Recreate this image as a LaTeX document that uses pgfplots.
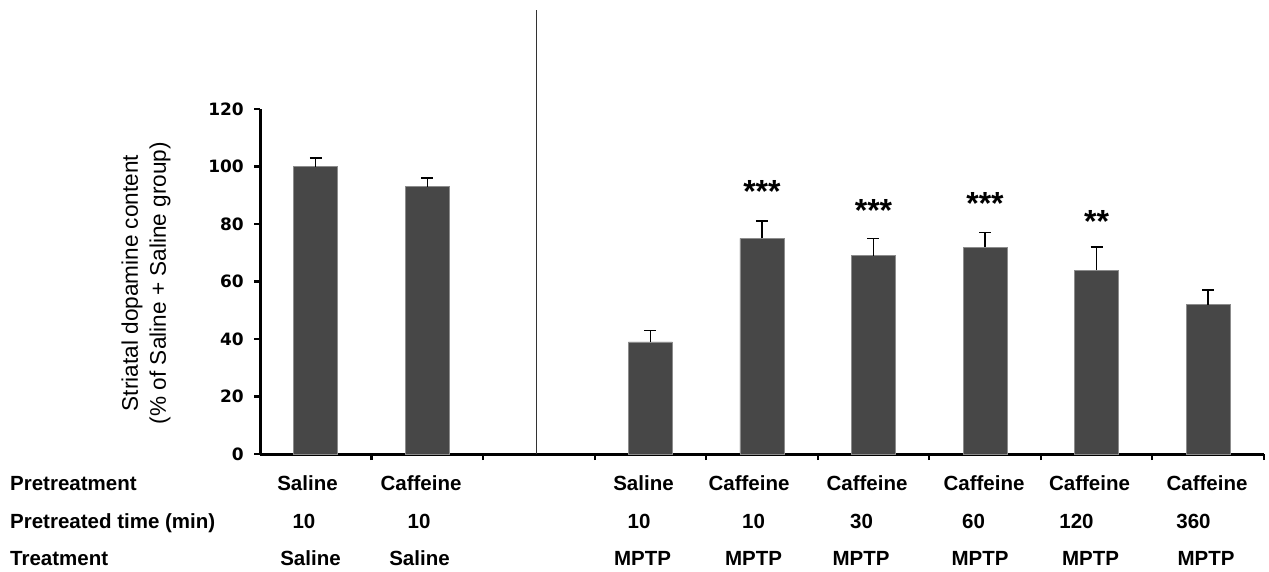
\documentclass[border=0pt]{standalone}
\usepackage{fontspec}
\setmainfont{Liberation Sans}
\newfontfamily\dejavu{DejaVu Sans}
\usepackage{pgfplots}
\pgfplotsset{compat=1.18}
\definecolor{barfill}{HTML}{474747}
\definecolor{baredge}{HTML}{8C8C8C}
\definecolor{divider}{HTML}{333333}
\newcommand{\lab}{\bfseries\fontsize{20.5}{24}\selectfont}
\begin{document}
\begin{tikzpicture}
\path[use as bounding box] (0,0) rectangle (1269pt,-571pt);
\begin{axis}[
  at={(260pt,-454pt)}, anchor=south west,
  scale only axis, width=1004pt, height=345pt,
  xmin=-0.5, xmax=8.5, ymin=0, ymax=120,
  axis lines*=left, axis line style={line width=3pt},
  xtick={0.5,1.5,2.5,3.5,4.5,5.5,6.5,7.5,8.5}, xticklabels={},
  ytick={0,20,40,60,80,100,120}, yticklabels={0,20,40,60,80,100,120},
  tick align=outside, major tick length=6pt, tick style={line width=2.2pt, black},
  yticklabel style={font=\dejavu\bfseries\fontsize{17}{17}\selectfont, inner sep=0pt, xshift=-10pt},
  clip=false,
]
\addplot[ybar, bar width=44pt, fill=barfill, draw=baredge, line width=0.6pt,
  error bars/.cd, y dir=plus, y explicit,
  error bar style={line width=1.4pt, black},
  error mark options={rotate=90, mark size=6pt, line width=1.4pt, black}]
  coordinates {
  (0,100) +- (0,3)
  (1,93) +- (0,3)
  (3,39) +- (0,4)
  (4,75) +- (0,6)
  (5,69) +- (0,6)
  (6,72) +- (0,5)
  (7,64) +- (0,8)
  (8,52) +- (0,5)
  };
\draw[line width=1.5pt, divider] (axis cs:1.98,0) -- (axis cs:1.98,154.4);
\begin{scope}[every node/.style={anchor=base, font=\bfseries\fontsize{32}{32}\selectfont, inner sep=0pt}]
\node at (axis cs:4,87.4) {***};
\node at (axis cs:5,80.7) {***};
\node at (axis cs:6,83.4) {***};
\node at (axis cs:7,76.9) {**};
\end{scope}
\end{axis}
\node[rotate=90, align=center, font=\fontsize{22.6}{28}\selectfont] at (146pt,-283pt) {Striatal dopamine content\\(\% of Saline + Saline group)};
\begin{scope}[every node/.style={anchor=base, font=\lab, inner sep=0pt}]
\node[anchor=base west] at (10pt,-490pt) {Pretreatment};
\node[anchor=base west] at (10pt,-528pt) {Pretreated time (min)};
\node[anchor=base west] at (10pt,-565.5pt) {Treatment};
\node at (307.5pt,-490pt) {Saline};
\node at (421pt,-490pt) {Caffeine};
\node at (643.5pt,-490pt) {Saline};
\node at (749pt,-490pt) {Caffeine};
\node at (867pt,-490pt) {Caffeine};
\node at (984pt,-490pt) {Caffeine};
\node at (1089.5pt,-490pt) {Caffeine};
\node at (1207pt,-490pt) {Caffeine};
\node at (304pt,-528pt) {10};
\node at (419pt,-528pt) {10};
\node at (639pt,-528pt) {10};
\node at (753.5pt,-528pt) {10};
\node at (861.5pt,-528pt) {30};
\node at (973.5pt,-528pt) {60};
\node at (1076.5pt,-528pt) {120};
\node at (1193.5pt,-528pt) {360};
\node at (310.5pt,-565.5pt) {Saline};
\node at (419.5pt,-565.5pt) {Saline};
\node at (642.5pt,-565.5pt) {MPTP};
\node at (753.5pt,-565.5pt) {MPTP};
\node at (861pt,-565.5pt) {MPTP};
\node at (980pt,-565.5pt) {MPTP};
\node at (1090.5pt,-565.5pt) {MPTP};
\node at (1206pt,-565.5pt) {MPTP};
\end{scope}
\end{tikzpicture}
\end{document}
